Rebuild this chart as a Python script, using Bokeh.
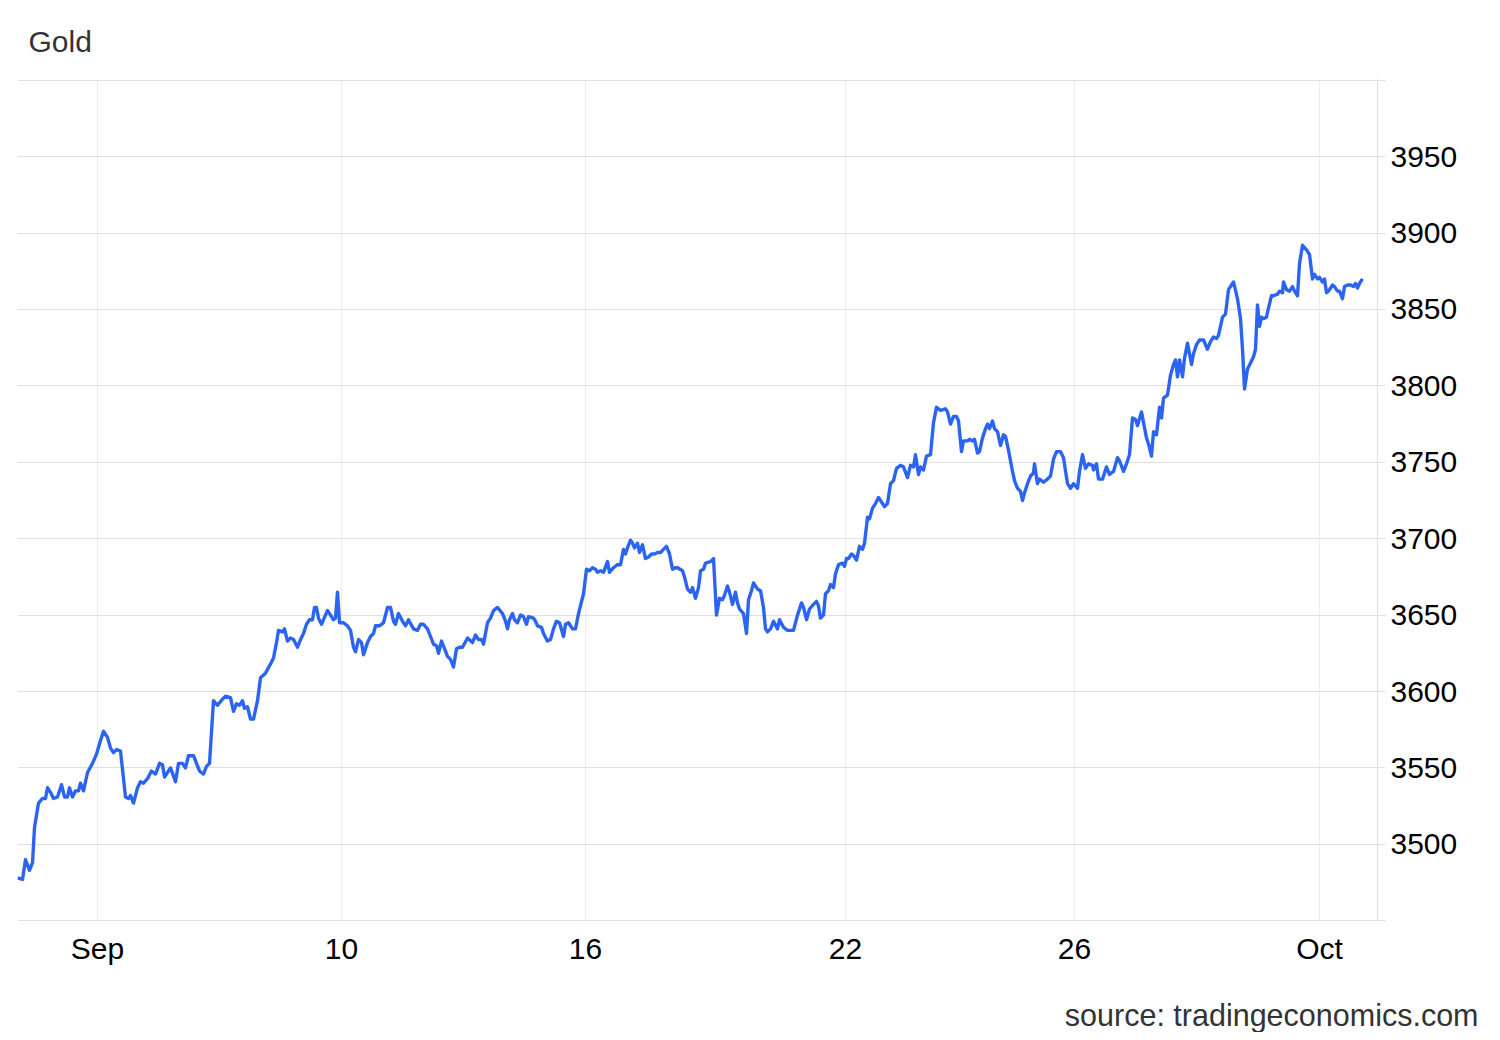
from bokeh.plotting import figure
from bokeh.models import (Range1d, LinearAxis, FixedTicker, Grid, Title)
from bokeh.embed import file_html
from bokeh.resources import INLINE

# ---------------- data ----------------
title_text = "Gold"
source_text = "source: tradingeconomics.com"

# position on the (trading-time) x axis and gold price
t = [
    0, 5, 8, 12, 15, 17, 21, 25, 28, 30, 33, 36, 40, 44, 47, 50, 52, 55, 58, 61,
    63, 66, 70, 75, 79, 83, 86, 90, 93, 96, 99, 103, 108, 111, 113, 116, 120, 123,
    126, 130, 134, 138, 142, 145, 147, 150, 153, 158, 161, 165, 168, 171, 176, 179,
    182, 186, 189, 192,
    196, 200, 205, 208, 213, 216, 219, 222, 225, 227, 230, 233, 236, 240, 243, 248,
    253, 256, 259, 261, 265, 267, 270, 273, 276, 280, 283, 286, 289, 292, 295, 297,
    299, 301, 304, 306, 310, 313, 316, 318, 320, 322, 326, 330, 333, 336, 338, 341,
    344, 346, 350, 353, 356, 358, 362, 366, 370, 373, 376, 378, 381, 385, 388, 391,
    396, 400,
    403, 406, 410, 413, 416, 419, 421, 424, 427, 430, 433, 436, 439, 442, 445, 450,
    455, 458, 461, 464, 466, 470, 473, 476, 480, 485, 488, 490, 492, 495, 497, 500,
    503, 506, 509, 511, 516, 518, 520, 524, 526, 530, 533, 536, 539, 542, 546, 548,
    551, 555, 558, 561, 566, 569, 572,
    575, 578, 580, 583, 586, 590, 592, 596, 600, 603, 606, 608, 610, 613, 615, 617,
    620, 622, 625, 628, 631, 634, 637, 640, 643, 646, 649, 652, 655, 658,
    660, 665, 667, 670, 673, 675, 678, 681, 683, 686, 688, 693, 696, 699, 702, 705,
    707, 710, 712, 715, 718, 720, 722, 726, 729, 731, 734, 736, 740, 743, 746, 748,
    750, 753, 756, 760, 762, 766, 770, 776, 780, 784, 786, 789, 792, 796, 799, 801,
    803, 806, 808, 811, 813, 816,
    818, 821, 825, 827, 829, 831, 834, 836, 839, 842, 845, 847, 850, 852, 855, 858,
    861, 864, 867, 870, 873, 876, 879, 883, 886, 890, 893, 896, 898, 901, 903, 906,
    909, 913, 916, 919, 923, 928, 930, 933, 936, 939, 941, 944, 946, 950, 952, 955,
    957, 960, 962, 965, 968, 970, 972, 975, 977, 980, 983, 986, 988, 991, 995, 997,
    1000, 1003, 1005, 1007, 1010, 1013, 1016, 1017, 1020, 1022, 1026, 1030, 1033,
    1036, 1039, 1043,
    1046, 1050, 1053, 1056, 1060, 1062, 1065, 1068, 1071, 1075, 1076, 1079, 1081,
    1085, 1089, 1092, 1096, 1100, 1102, 1106, 1109, 1112, 1115, 1118, 1120, 1124,
    1126, 1129, 1131, 1134, 1136, 1139, 1142, 1144, 1146, 1150, 1153, 1156, 1158,
    1160, 1162, 1165, 1167, 1170, 1174, 1176, 1179, 1182, 1186, 1190, 1193, 1196,
    1199, 1201, 1205, 1208, 1211, 1214, 1216, 1220, 1223, 1225, 1227, 1230, 1233,
    1236, 1238, 1240, 1242, 1244, 1246, 1249, 1251, 1254, 1256, 1260, 1262, 1265,
    1266, 1269, 1272, 1275, 1277, 1280, 1282, 1285, 1289, 1292, 1295, 1297, 1300,
    1302, 1305, 1307, 1309, 1311, 1315, 1317, 1320, 1322, 1325, 1327, 1330, 1333,
    1336, 1338, 1340, 1342, 1345,
]

price = [
    3478, 3477, 3490, 3483, 3488, 3511, 3527, 3530, 3530, 3537, 3534, 3530, 3531,
    3539, 3531, 3531, 3537, 3531, 3535, 3535, 3540, 3535, 3547, 3553, 3559, 3568,
    3574, 3570, 3563, 3560, 3562, 3561, 3531, 3530, 3532, 3527, 3537, 3541, 3540,
    3543, 3548, 3546, 3553, 3552, 3544, 3547, 3550, 3541, 3553, 3553, 3550, 3558,
    3558, 3553, 3548, 3546, 3551, 3553,
    3594, 3591, 3595, 3597, 3596, 3587, 3592, 3591, 3594, 3589, 3590, 3582, 3582,
    3594, 3609, 3612, 3618, 3622, 3632, 3640, 3639, 3641, 3633, 3635, 3634, 3629,
    3634, 3638, 3644, 3647, 3647, 3655, 3655, 3648, 3644, 3647, 3653, 3650, 3647,
    3648, 3665, 3645, 3645, 3643, 3640, 3629, 3626, 3634, 3632, 3624, 3632, 3636,
    3638, 3643, 3643, 3645, 3655, 3655, 3646, 3644, 3651, 3646, 3643, 3647, 3641,
    3640,
    3644, 3644, 3641, 3636, 3631, 3630, 3625, 3633, 3628, 3623, 3621, 3616, 3628,
    3629, 3629, 3635, 3632, 3637, 3634, 3634, 3631, 3645, 3648, 3653, 3655, 3651,
    3646, 3641, 3647, 3651, 3647, 3645, 3650, 3649, 3644, 3649, 3648, 3646, 3643,
    3642, 3638, 3633, 3634, 3641, 3646, 3645, 3636, 3644, 3645, 3641, 3641, 3651,
    3664, 3680, 3679,
    3681, 3680, 3678, 3679, 3678, 3685, 3678, 3681, 3683, 3683, 3693, 3690, 3694,
    3699, 3697, 3694, 3697, 3691, 3696, 3687, 3688, 3690, 3690, 3691, 3691, 3693,
    3695, 3690, 3680, 3681,
    3681, 3679, 3675, 3667, 3665, 3668, 3661, 3668, 3679, 3680, 3684, 3685, 3687,
    3650, 3661, 3660, 3663, 3669, 3665, 3657, 3665, 3658, 3654, 3651, 3638, 3660,
    3666, 3671, 3667, 3666, 3655, 3641, 3639, 3641, 3646, 3641, 3647, 3642, 3640,
    3640, 3650, 3658, 3655, 3647, 3654, 3657, 3659, 3656, 3648, 3650, 3664, 3666,
    3670, 3668,
    3677, 3683, 3684, 3682, 3687, 3687, 3690, 3689, 3686, 3695, 3693, 3697, 3714,
    3713, 3720, 3723, 3727, 3724, 3721, 3723, 3736, 3738, 3746, 3748, 3747, 3740,
    3748, 3747, 3755, 3742, 3747, 3745, 3754, 3755, 3776, 3786, 3784, 3785, 3783,
    3775, 3780, 3780, 3777, 3757, 3764, 3764, 3765, 3764, 3765, 3756, 3757, 3766,
    3772, 3775, 3772, 3777, 3772, 3770, 3761, 3768, 3767, 3758, 3744, 3738, 3733,
    3731, 3725, 3730, 3736, 3741, 3743, 3749, 3736, 3739, 3737, 3739, 3741, 3752,
    3757, 3757,
    3753, 3736, 3733, 3736, 3733, 3744, 3755, 3746, 3749, 3748, 3745, 3749, 3739,
    3739, 3747, 3742, 3744, 3753, 3751, 3744, 3749, 3755, 3779, 3778, 3774, 3783,
    3776, 3766, 3762, 3754, 3770, 3768, 3786, 3779, 3792, 3794, 3807, 3814, 3817,
    3806, 3817, 3806, 3818, 3828, 3814, 3821, 3827, 3830, 3830, 3824, 3829, 3832,
    3831, 3833, 3845, 3847, 3863, 3866, 3868, 3857, 3844, 3824, 3798, 3811, 3815,
    3819, 3824, 3853, 3839, 3845, 3844, 3845, 3851, 3859, 3859, 3860, 3862, 3861,
    3868, 3863, 3862, 3865, 3862, 3859, 3880, 3892, 3889, 3886, 3870, 3873, 3870,
    3871, 3868, 3870, 3861, 3862, 3866, 3865, 3862, 3862, 3857, 3865, 3866, 3866,
    3865, 3867, 3864, 3867, 3870,
]

x_tick_pos = [80, 324, 568, 828, 1057, 1302]
x_tick_labels = ["Sep", "10", "16", "22", "26", "Oct"]

y_ticks = [3450, 3500, 3550, 3600, 3650, 3700, 3750, 3800, 3850, 3900, 3950, 4000]
y_tick_labels = ["", "3500", "3550", "3600", "3650", "3700", "3750", "3800",
                 "3850", "3900", "3950", ""]

assert len(t) == len(price)

# ---------------- figure ----------------
FONT = "Liberation Sans"

p = figure(
    frame_width=1360, frame_height=842,
    x_range=Range1d(0, 1360), y_range=Range1d(3449.5, 4000.5),
    output_backend="svg", toolbar_location=None,
    x_axis_location=None, y_axis_location=None,
    min_border_left=17, min_border_top=79, min_border_right=105, min_border_bottom=100,
)
p.outline_line_color = None
p.background_fill_color = "white"
p.border_fill_color = "white"
p.grid.visible = False

# title (top left)
p.title = Title(text=title_text, align="left", offset=11, standoff=43,
                vertical_align="bottom",
                text_font=FONT, text_font_size="30px", text_font_style="normal",
                text_color="#333333")

# right axis
yax = LinearAxis(ticker=FixedTicker(ticks=y_ticks))
yax.major_label_overrides = {v: s for v, s in zip(y_ticks, y_tick_labels)}
yax.axis_line_color = "#dcdcdc"
yax.axis_line_width = 1
yax.major_tick_line_color = "#e0e0e0"
yax.major_tick_in = 0
yax.major_tick_out = 8
yax.minor_tick_line_color = None
yax.major_label_standoff = 5
yax.major_label_text_font = FONT
yax.major_label_text_font_size = "30px"
yax.major_label_text_color = "#000000"
p.add_layout(yax, "right")

# bottom axis
xax = LinearAxis(ticker=FixedTicker(ticks=x_tick_pos))
xax.major_label_overrides = {v: s for v, s in zip(x_tick_pos, x_tick_labels)}
xax.axis_line_color = None
xax.major_tick_line_color = None
xax.minor_tick_line_color = None
xax.major_tick_in = 0
xax.major_tick_out = 0
xax.major_label_standoff = 10
xax.major_label_text_font = FONT
xax.major_label_text_font_size = "30px"
xax.major_label_text_color = "#000000"
p.add_layout(xax, "below")

# source note (bottom right); the leading blank line pushes it below the axis labels
src = Title(text="\n" + source_text, align="right", offset=-101, standoff=0,
            vertical_align="bottom", text_line_height=0.85,
            text_font=FONT, text_font_size="30.5px", text_font_style="normal",
            text_color="#333333")
p.add_layout(src, "below")

# grids
hgrid = Grid(dimension=1, ticker=FixedTicker(ticks=y_ticks),
             grid_line_color="#e0e0e0", grid_line_width=1)
vgrid = Grid(dimension=0, ticker=FixedTicker(ticks=x_tick_pos),
             grid_line_color="#ebeef0", grid_line_width=1)
p.add_layout(vgrid)
p.add_layout(hgrid)

# price line
p.line(t, price, line_color="#2c64f2", line_width=3.4, line_join="round")

open("out.html", "w").write(file_html(p, INLINE))
